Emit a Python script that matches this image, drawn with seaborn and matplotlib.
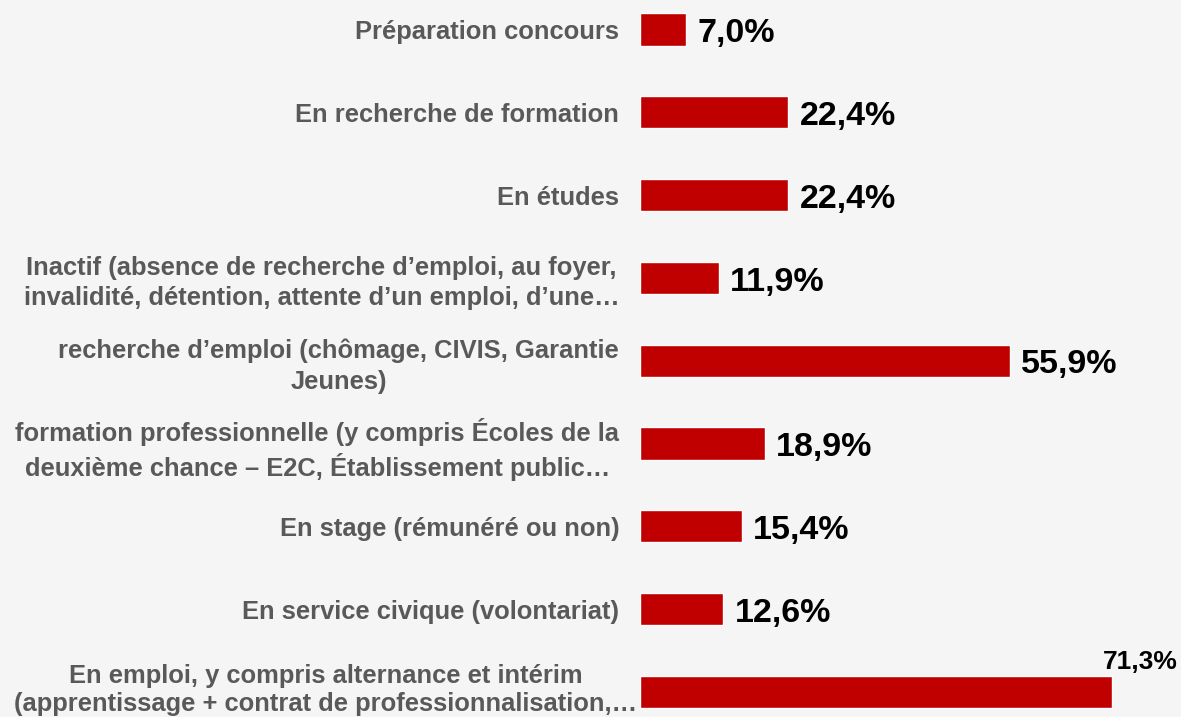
import matplotlib
matplotlib.use("Agg")
import matplotlib.pyplot as plt
import matplotlib.transforms as mtransforms
import pandas as pd
import seaborn as sns

categories = [
    "Préparation concours",
    "En recherche de formation",
    "En études",
    "Inactif (absence de recherche d’emploi, au foyer,\ninvalidité, détention, attente d’un emploi, d’une…",
    "recherche d’emploi (chômage, CIVIS, Garantie\nJeunes)",
    "formation professionnelle (y compris Écoles de la\ndeuxième chance – E2C, Établissement public…",
    "En stage (rémunéré ou non)",
    "En service civique (volontariat)",
    "En emploi, y compris alternance et intérim\n(apprentissage + contrat de professionnalisation,…",
]
values = [7.0, 22.4, 22.4, 11.9, 55.9, 18.9, 15.4, 12.6, 71.3]

bar_color = "#C00000"
bg_color = "#F5F5F5"
label_color = "#595959"

sns.set_theme(style="white")
plt.rcParams["font.family"] = ["Liberation Sans", "DejaVu Sans"]

df = pd.DataFrame({"categorie": categories, "valeur": values})

fig = plt.figure(figsize=(11.81, 7.17), dpi=100, facecolor=bg_color)
ax = fig.add_axes([640 / 1181, 0, 1 - 640 / 1181, 1])
ax.set_facecolor(bg_color)

sns.barplot(data=df, x="valeur", y="categorie", orient="h", color=bar_color,
            width=0.39, saturation=1, ax=ax)

xmax = (1181 - 640) / 6.62
ax.set_xlim(0, xmax)
ax.set_ylim(8.303, -0.356)

ax.set_xlabel("")
ax.set_ylabel("")
ax.set_xticks([])
ax.tick_params(axis="y", length=0, pad=15)
ticklabels = ax.get_yticklabels()
for t in ticklabels:
    t.set_fontsize(18.4)
    t.set_fontweight("bold")
    t.set_color(label_color)
    t.set_multialignment("center")
    t.set_linespacing(1.32)

# le dernier libellé déborde sur la barre dans l'original
shift = mtransforms.ScaledTranslation(18 / 100, 6 / 100, fig.dpi_scale_trans)
ticklabels[-1].set_transform(ticklabels[-1].get_transform() + shift)
ticklabels[-1].set_linespacing(1.2)

for s in ax.spines.values():
    s.set_visible(False)

for i, v in enumerate(values):
    txt = f"{v:.1f}%".replace(".", ",")
    if v + 14 > xmax:
        # pas la place à droite : au-dessus, calé sur le bord
        ax.annotate(txt, (xmax, i - 0.2), xytext=(-2, 1), textcoords="offset points",
                    ha="right", va="bottom", fontsize=19, fontweight="bold", color="black")
    else:
        ax.annotate(txt, (v, i), xytext=(8, -3), textcoords="offset points",
                    ha="left", va="center", fontsize=24.5, fontweight="bold", color="black")

fig.savefig("out.png", dpi=100, facecolor=bg_color)
